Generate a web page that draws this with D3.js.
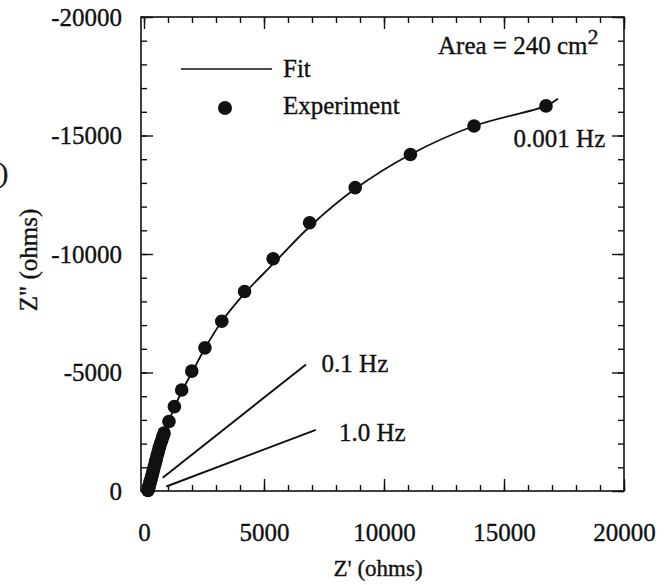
<!DOCTYPE html>
<html>
<head>
<meta charset="utf-8">
<script src="https://cdn.jsdelivr.net/npm/d3@7"></script>
<style>
  body { margin: 0; background: #fff; }
  text { font-family: "Liberation Serif", "Times New Roman", serif; fill: #111; stroke: #111; stroke-width: 0.35px; }
</style>
</head>
<body>
<div id="chart"></div>
<script>
// experimental points, Z' and Z'' in ohms
const expRe = [16750, 13750, 11100, 8800, 6900, 5380, 4190, 3240, 2540, 1990, 1570, 1265, 1040, 835,
  790, 740, 690, 640, 600, 560, 520, 485, 450, 415, 385, 355, 325, 300, 275, 250, 230, 210, 195, 180, 170, 165];
const expIm = [-16250, -15400, -14200, -12800, -11320, -9800, -8420, -7160, -6040, -5060, -4260, -3560, -2930, -2440,
  -2300, -2150, -2000, -1840, -1690, -1540, -1390, -1250, -1110, -980, -860, -740, -630, -530, -440, -350, -270, -200, -140, -90, -50, -20];

// fitted curve
const fitRe = [120, 260, 450, 700, 1000, 1300, 1600, 2000, 2500, 3200, 4200, 5400, 6900, 8800, 11100, 13750, 16750, 17250];
const fitIm = [-40, -500, -1100, -2000, -2850, -3600, -4250, -5000, -5950, -7100, -8350, -9600, -11150, -12750, -14200, -15400, -16250, -16550];

// frequency guide lines
const hz01Re = [780, 6750];
const hz01Im = [-560, -5340];
const hz1Re = [930, 7160];
const hz1Im = [-190, -2580];

const xTicks = [0, 5000, 10000, 15000, 20000];
const yTicks = [0, -5000, -10000, -15000, -20000];
const minorStep = 1000;

const W = 672, H = 585;
const svg = d3.select('#chart').append('svg').attr('width', W).attr('height', H);

const x = d3.scaleLinear().domain([0, 20000]).range([144, 624]);
const y = d3.scaleLinear().domain([0, -20000]).range([491, 17]);
const fLeft = 141, fRight = 624, fTop = 17, fBottom = 491;

const minorX = d3.range(0, 20001, minorStep);
const minorY = d3.range(0, -20001, -minorStep);
const fs = 25;

function styleAxis(g) {
  g.select('.domain').remove();
  g.selectAll('line').attr('stroke', '#111').attr('stroke-width', 1.4);
  g.selectAll('text').attr('font-size', fs + 'px')
    .attr('font-family', '"Liberation Serif", "Times New Roman", serif').attr('fill', '#111');
}

// bottom
svg.append('g').attr('transform', `translate(0,${fBottom})`)
  .call(d3.axisBottom(x).tickValues(minorX).tickSize(-6).tickFormat('')).call(styleAxis);
svg.append('g').attr('transform', `translate(0,${fBottom})`)
  .call(d3.axisBottom(x).tickValues(xTicks).tickSize(-12).tickPadding(32).tickFormat(d3.format('d'))).call(styleAxis);
// top
svg.append('g').attr('transform', `translate(0,${fTop})`)
  .call(d3.axisTop(x).tickValues(minorX).tickSize(-6).tickFormat('')).call(styleAxis);
svg.append('g').attr('transform', `translate(0,${fTop})`)
  .call(d3.axisTop(x).tickValues(xTicks).tickSize(-12).tickFormat('')).call(styleAxis);
// left
svg.append('g').attr('transform', `translate(${fLeft},0)`)
  .call(d3.axisLeft(y).tickValues(minorY).tickSize(-6).tickFormat('')).call(styleAxis);
svg.append('g').attr('transform', `translate(${fLeft},0)`)
  .call(d3.axisLeft(y).tickValues(yTicks).tickSize(-12).tickPadding(19).tickFormat(d => d === 0 ? '0' : '-' + Math.abs(d))).call(styleAxis);
// right
svg.append('g').attr('transform', `translate(${fRight},0)`)
  .call(d3.axisRight(y).tickValues(minorY).tickSize(-6).tickFormat('')).call(styleAxis);
svg.append('g').attr('transform', `translate(${fRight},0)`)
  .call(d3.axisRight(y).tickValues(yTicks).tickSize(-12).tickFormat('')).call(styleAxis);

// frame
svg.append('rect').attr('x', fLeft).attr('y', fTop).attr('width', fRight - fLeft).attr('height', fBottom - fTop)
  .attr('fill', 'none').attr('stroke', '#111').attr('stroke-width', 1.6);

// axis titles
svg.append('text').attr('x', 378).attr('y', 576).attr('text-anchor', 'middle')
  .attr('font-size', '23px').text("Z' (ohms)");
svg.append('text').attr('transform', 'translate(37,260) rotate(-90)').attr('text-anchor', 'middle')
  .attr('font-size', '25px').text('Z" (ohms)');
// panel letter remnant at the left edge
svg.append('text').attr('x', -1).attr('y', 182)
  .attr('font-size', '28px').text(')');

// fit curve
const line = d3.line().x(d => x(d[0])).y(d => y(d[1])).curve(d3.curveCatmullRom);
svg.append('path').datum(fitRe.map((v, i) => [v, fitIm[i]]))
  .attr('d', line).attr('fill', 'none').attr('stroke', '#111').attr('stroke-width', 1.8);

// frequency lines
[[hz01Re, hz01Im], [hz1Re, hz1Im]].forEach(([re, im]) => {
  svg.append('path').datum(re.map((v, i) => [v, im[i]]))
    .attr('d', d3.line().x(d => x(d[0])).y(d => y(d[1])))
    .attr('stroke', '#111').attr('stroke-width', 2).attr('fill', 'none');
});

// experiment points
svg.append('g').selectAll('circle').data(expRe.map((v, i) => [v, expIm[i]])).join('circle')
  .attr('cx', d => x(d[0])).attr('cy', d => y(d[1])).attr('r', 6.8).attr('fill', '#111');

// frequency labels
svg.append('text').attr('x', x(7400)).attr('y', y(-5380)).attr('dy', '0.33em').attr('font-size', fs + 'px').text('0.1 Hz');
svg.append('text').attr('x', x(8120)).attr('y', y(-2440)).attr('dy', '0.33em').attr('font-size', fs + 'px').text('1.0 Hz');
svg.append('text').attr('x', x(15400)).attr('y', y(-14870)).attr('dy', '0.33em').attr('font-size', fs + 'px').text('0.001 Hz');

// legend
svg.append('line').attr('x1', 181).attr('x2', 272).attr('y1', 69).attr('y2', 69)
  .attr('stroke', '#111').attr('stroke-width', 1.4);
svg.append('text').attr('x', 283).attr('y', 69).attr('dy', '0.33em').attr('font-size', fs + 'px').text('Fit');
svg.append('circle').attr('cx', 225).attr('cy', 108).attr('r', 7).attr('fill', '#111');
svg.append('text').attr('x', 283).attr('y', 106).attr('dy', '0.33em').attr('font-size', fs + 'px').text('Experiment');

// area note
const area = svg.append('text').attr('x', 438).attr('y', 46).attr('dy', '0.33em').attr('font-size', fs + 'px');
area.append('tspan').text('Area = 240 cm');
area.append('tspan').attr('dy', '-0.45em').attr('font-size', '22px').text('2');
</script>
</body>
</html>
